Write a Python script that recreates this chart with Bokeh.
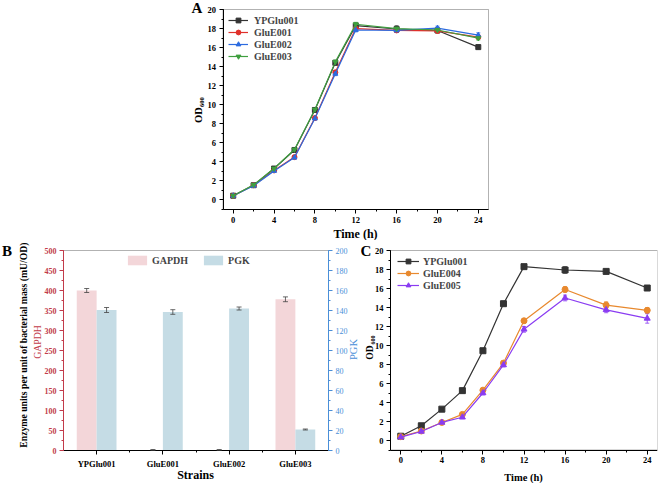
import math
from bokeh.plotting import figure
from bokeh.layouts import column, row
from bokeh.models import (Legend, LegendItem, Whisker, TeeHead, ColumnDataSource, Label, BoxAnnotation,
                          Range1d, LinearAxis, SingleIntervalTicker, FixedTicker)
from bokeh.embed import file_html
from bokeh.resources import INLINE

FONT = "Liberation Serif"

# ---------------- data ----------------
time_h = [0, 2, 4, 6, 8, 10, 12, 16, 20, 24]

ypglu001 = [0.45, 1.55, 3.3, 5.25, 9.45, 14.4, 18.3, 17.95, 17.8, 16.05]
ypglu001_err = [0.1, 0.1, 0.15, 0.15, 0.2, 0.2, 0.2, 0.35, 0.2, 0.2]
glue001 = [0.45, 1.55, 3.1, 4.5, 8.6, 13.4, 18.0, 17.8, 17.75, 17.1]
glue001_err = [0.1, 0.1, 0.1, 0.15, 0.15, 0.2, 0.2, 0.2, 0.2, 0.2]
glue002 = [0.45, 1.5, 3.05, 4.45, 8.55, 13.25, 17.85, 17.8, 18.05, 17.3]
glue002_err = [0.1, 0.1, 0.1, 0.15, 0.15, 0.2, 0.2, 0.2, 0.2, 0.25]
glue003 = [0.45, 1.6, 3.3, 5.3, 9.5, 14.5, 18.45, 18.0, 17.85, 17.0]
glue003_err = [0.1, 0.1, 0.1, 0.15, 0.15, 0.2, 0.2, 0.2, 0.2, 0.2]

glue004 = [0.4, 1.0, 1.9, 2.75, 5.3, 8.15, 12.6, 15.9, 14.25, 13.7]
glue004_err = [0.1, 0.15, 0.1, 0.15, 0.2, 0.2, 0.25, 0.3, 0.35, 0.3]
glue005 = [0.35, 0.95, 1.9, 2.45, 5.0, 7.95, 11.7, 15.0, 13.75, 12.85]
glue005_err = [0.1, 0.1, 0.1, 0.15, 0.2, 0.2, 0.3, 0.3, 0.3, 0.5]

strains = ["YPGlu001", "GluE001", "GluE002", "GluE003"]
gapdh = [400, 1.5, 1.5, 378]
gapdh_err = [5, 1.0, 1.0, 6]
pgk = [140.5, 138.5, 142, 21]
pgk_err = [2.5, 2.3, 1.5, 0.5]

time_label = "Time (h)"
od_label = "OD\u2086\u2080\u2080"

# ---------------- colours ----------------
C_BLACK = "#333333"
C_RED = "#e0302a"
C_BLUE = "#2c6be0"
C_GREEN = "#3f9f3f"
C_ORANGE = "#e8892e"
C_PURPLE = "#8a3cf2"
C_PINK = "#f3d6d9"
C_LBLUE = "#c5dce5"
AX_RED = "#c23b4a"
AX_BLUE = "#4a8fd8"


def ext_x(lo, hi, px_lo, px_hi, c_lo, c_hi):
    u = (hi - lo) / (px_hi - px_lo)
    return Range1d(lo - (px_lo - c_lo) * u, hi + (c_hi - px_hi) * u)


def ext_y(lo, hi, py_lo, py_hi, c_top, c_bot):
    u = (hi - lo) / (py_lo - py_hi)
    return Range1d(lo - (c_bot - py_lo) * u, hi + (py_hi - c_top) * u)


def set_axis_label(ax, text, size, standoff, color="black", style="bold"):
    ax.axis_label = text
    ax.axis_label_text_font = FONT
    ax.axis_label_text_font_size = size
    ax.axis_label_text_font_style = style
    ax.axis_label_text_color = color
    ax.axis_label_standoff = standoff


def style_axis(ax, color="black", size="8.5px", style="bold", standoff=3):
    ax.axis_line_color = color
    ax.major_tick_line_color = color
    ax.minor_tick_line_color = color
    ax.major_tick_in = 0
    ax.major_tick_out = 4
    ax.minor_tick_in = 0
    ax.minor_tick_out = 2
    ax.major_label_text_font = FONT
    ax.major_label_text_font_style = style
    ax.major_label_text_font_size = size
    ax.major_label_text_color = color
    ax.major_label_standoff = standoff


def add_label(p, c_left, c_bottom, px, py, text, size, color="black", style="bold", angle=0.0):
    p.add_layout(Label(x=px - c_left, y=c_bottom - py, x_units="screen", y_units="screen",
                       text=text, text_font=FONT, text_font_size=size, text_font_style=style,
                       text_color=color, text_align="center", text_baseline="middle",
                       angle=angle))


def growth_panel(p, series, marker_size, legend_xy, glyph_w, standoff):
    items = []
    for name, ys, errs, color, marker in series:
        src = ColumnDataSource(dict(t=time_h, y=ys, lo=[a - b for a, b in zip(ys, errs)],
                                    hi=[a + b for a, b in zip(ys, errs)]))
        p.add_layout(Whisker(source=src, base="t", upper="hi", lower="lo", dimension="height",
                             line_color=color, line_width=0.8,
                             upper_head=TeeHead(size=4, line_color=color, line_width=0.8),
                             lower_head=TeeHead(size=4, line_color=color, line_width=0.8)))
        lr = p.line("t", "y", source=src, line_color=color, line_width=1.2)
        sr = p.scatter("t", "y", source=src, marker=marker, size=marker_size,
                       fill_color=color, line_color=color)
        items.append(LegendItem(label=name, renderers=[lr, sr]))
    leg = Legend(items=items, location=legend_xy, orientation="vertical",
                 label_text_font=FONT, label_text_font_style="bold", label_text_font_size="10px",
                 label_height=12, glyph_height=12, glyph_width=glyph_w, label_standoff=standoff,
                 spacing=0, padding=0, margin=0, border_line_alpha=0, background_fill_alpha=0)
    p.add_layout(leg)


# ---------------- Panel A (canvas x 0..658, y 0..240) ----------------
A_W, A_H = 658, 240
A_BOX = (222.5, 488, 9, 209)   # left, right, top, bottom (page px)
pA = figure(width=A_W, height=A_H,
            x_range=ext_x(-1, 25, A_BOX[0], A_BOX[1], 0, A_W),
            y_range=ext_y(-1, 20, A_BOX[3], A_BOX[2], 0, A_H),
            x_axis_location=None, y_axis_location=None,
            output_backend="svg", toolbar_location=None, min_border=0)
pA.grid.visible = False
pA.outline_line_color = None
axA_x = LinearAxis(ticker=SingleIntervalTicker(interval=4, num_minor_ticks=2), fixed_location=-1,
                   bounds=(-1, 25))
axA_y = LinearAxis(ticker=SingleIntervalTicker(interval=2, num_minor_ticks=2), fixed_location=-1,
                   bounds=(-1, 20))
style_axis(axA_x)
style_axis(axA_y)
pA.add_layout(axA_x, "below")
pA.add_layout(axA_y, "left")
pA.add_layout(BoxAnnotation(left=-1, right=25, bottom=-1, top=20, fill_alpha=0,
                            line_color="black", line_width=1, level="underlay"))
growth_panel(pA, [
    ("YPGlu001", ypglu001, ypglu001_err, C_BLACK, "square"),
    ("GluE001", glue001, glue001_err, C_RED, "circle"),
    ("GluE002", glue002, glue002_err, C_BLUE, "triangle"),
    ("GluE003", glue003, glue003_err, C_GREEN, "inverted_triangle"),
], 5, (228, A_H - 62), 20, 6)
add_label(pA, 0, A_H, 196.5, 7.5, "A", "15px")
add_label(pA, 0, A_H, 355, 233, time_label, "12px")
add_label(pA, 0, A_H, 198, 114.5, "OD", "10.5px", angle=math.pi / 2)
add_label(pA, 0, A_H, 201.5, 101.5, "600", "6.5px", angle=math.pi / 2)

# ---------------- Panel B (canvas x 0..360, page y 240..483) ----------------
B_W, B_H, B_TOP = 360, 243, 240
B_BOX = (63, 328, 250, 450)
pos = [i + 1 for i in range(len(strains))]
pB = figure(width=B_W, height=B_H,
            x_range=ext_x(0.5, len(strains) + 0.5, B_BOX[0], B_BOX[1], 0, B_W),
            y_range=ext_y(0, 500, B_BOX[3], B_BOX[2], B_TOP, B_TOP + B_H),
            x_axis_location=None, y_axis_location=None,
            output_backend="svg", toolbar_location=None, min_border=0)
pB.extra_y_ranges = {"pgk": ext_y(0, 200, B_BOX[3], B_BOX[2], B_TOP, B_TOP + B_H)}
pB.grid.visible = False
pB.outline_line_color = None
pB.add_layout(BoxAnnotation(left=0.5, right=len(strains) + 0.5, bottom=0, top=500, fill_alpha=0,
                            line_color="black", line_width=1, level="underlay"))

srcB = ColumnDataSource(dict(xg=[x - 0.15 for x in pos], xp=[x + 0.15 for x in pos],
                             gapdh=gapdh, pgk=pgk,
                             g_lo=[a - b for a, b in zip(gapdh, gapdh_err)],
                             g_hi=[a + b for a, b in zip(gapdh, gapdh_err)],
                             p_lo=[a - b for a, b in zip(pgk, pgk_err)],
                             p_hi=[a + b for a, b in zip(pgk, pgk_err)]))
rg = pB.vbar(x="xg", top="gapdh", width=0.3, source=srcB, fill_color=C_PINK, line_color=None)
rp = pB.vbar(x="xp", top="pgk", width=0.3, source=srcB, fill_color=C_LBLUE, line_color=None,
             y_range_name="pgk")
for base, lo, hi, rn in (("xg", "g_lo", "g_hi", "default"), ("xp", "p_lo", "p_hi", "pgk")):
    pB.add_layout(Whisker(source=srcB, base=base, upper=hi, lower=lo, y_range_name=rn,
                          line_color="#444444", line_width=0.8, level="overlay",
                          upper_head=TeeHead(size=5, line_color="#444444", line_width=0.8),
                          lower_head=TeeHead(size=5, line_color="#444444", line_width=0.8)))

axB_l = LinearAxis(ticker=SingleIntervalTicker(interval=50, num_minor_ticks=2), fixed_location=0.5,
                   bounds=(0, 500))
axB_r = LinearAxis(ticker=SingleIntervalTicker(interval=20, num_minor_ticks=2), y_range_name="pgk",
                   fixed_location=len(strains) + 0.5, bounds=(0, 200))
axB_x = LinearAxis(ticker=FixedTicker(ticks=pos, minor_ticks=[x + 0.5 for x in pos[:-1]]),
                   fixed_location=0, bounds=(0.5, len(strains) + 0.5),
                   major_label_overrides={x: s for x, s in zip(pos, strains)})
style_axis(axB_l, AX_RED, "8px", "bold", 3)
style_axis(axB_r, AX_BLUE, "8px", "normal", 3)
style_axis(axB_x, "black", "8.5px", "bold", 4)
pB.add_layout(axB_l, "left")
pB.add_layout(axB_r, "right")
pB.add_layout(axB_x, "below")

legB = Legend(items=[LegendItem(label="GAPDH", renderers=[rg]), LegendItem(label="PGK", renderers=[rp])],
              location=(125, B_TOP + B_H - 266), orientation="horizontal",
              label_text_font=FONT, label_text_font_style="bold", label_text_font_size="10px",
              glyph_width=24, glyph_height=12, label_height=12, label_standoff=3, spacing=13,
              padding=0, margin=0, border_line_alpha=0, background_fill_alpha=0)
pB.add_layout(legB)

B_BOT = B_TOP + B_H
add_label(pB, 0, B_BOT, 6.5, 250, "B", "15px")
add_label(pB, 0, B_BOT, 23, 344.5, "Enzyme units per unit of bacterial mass (mU/OD)", "9.7px",
          angle=math.pi / 2)
add_label(pB, 0, B_BOT, 37, 341.5, "GAPDH", "9.8px", color=AX_RED, style="normal", angle=math.pi / 2)
add_label(pB, 0, B_BOT, 353, 349, "PGK", "10.5px", color=AX_BLUE, style="normal", angle=math.pi / 2)
add_label(pB, 0, B_BOT, 195, 474, "Strains", "12px")

# ---------------- Panel C (canvas page x 360..658, page y 240..483) ----------------
C_L0, C_W, C_H, C_TOP = 360, 298, 243, 240
C_BOX = (390, 657, 250, 449.5)
pC = figure(width=C_W, height=C_H,
            x_range=ext_x(-1, 25, C_BOX[0], C_BOX[1], C_L0, C_L0 + C_W - 1),
            y_range=ext_y(-1, 20, C_BOX[3], C_BOX[2], C_TOP, C_TOP + C_H),
            x_axis_location=None, y_axis_location=None,
            output_backend="svg", toolbar_location=None, min_border=0, min_border_right=1)
pC.grid.visible = False
pC.outline_line_color = None
axC_x = LinearAxis(ticker=SingleIntervalTicker(interval=4, num_minor_ticks=2), fixed_location=-1,
                   bounds=(-1, 25))
axC_y = LinearAxis(ticker=SingleIntervalTicker(interval=2, num_minor_ticks=2), fixed_location=-1,
                   bounds=(-1, 20))
style_axis(axC_x)
style_axis(axC_y)
pC.add_layout(axC_x, "below")
pC.add_layout(axC_y, "left")
pC.add_layout(BoxAnnotation(left=-1, right=25, bottom=-1, top=20, fill_alpha=0,
                            line_color="black", line_width=1, level="underlay"))
growth_panel(pC, [
    ("YPGlu001", ypglu001, ypglu001_err, C_BLACK, "square"),
    ("GluE004", glue004, glue004_err, C_ORANGE, "circle"),
    ("GluE005", glue005, glue005_err, C_PURPLE, "triangle"),
], 6, (397 - C_L0, C_TOP + C_H - 291), 22, 4)
C_BOT = C_TOP + C_H
add_label(pC, C_L0, C_BOT, 365.5, 250, "C", "15px")
add_label(pC, C_L0, C_BOT, 369, 352, "OD", "9.5px", angle=math.pi / 2)
add_label(pC, C_L0, C_BOT, 372, 339.5, "600", "6px", angle=math.pi / 2)
add_label(pC, C_L0, C_BOT, 523, 476.5, time_label, "10.5px")

layout = column(pA, row(pB, pC, spacing=0), spacing=0)
open("out.html", "w").write(file_html(layout, INLINE))
